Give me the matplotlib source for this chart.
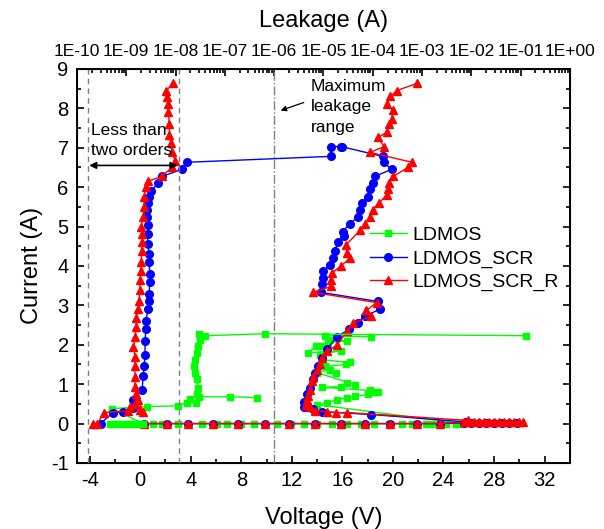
import numpy as np
import matplotlib
matplotlib.use("Agg")
import matplotlib.pyplot as plt
from matplotlib.ticker import MultipleLocator, FuncFormatter, LogLocator, NullFormatter

plt.rcParams['font.family'] = ['Liberation Sans', 'DejaVu Sans']
plt.rcParams['axes.unicode_minus'] = False

# ---- TLP I-V curves (bottom axis, Voltage) ----
ldmos_v = [1.0, 1.7, 3.0, 3.8, 4.9, 6.1, 6.9, 8.0, 9.0, 10.8, 11.9, 13.0, 14.0, 15.2, 16.4, 17.5,
           18.5, 19.7, 20.7, 21.5, 22.6, 23.1, 24.2, 25.0, 25.5,
           14.0, 14.8, 15.6, 16.4, 17.0, 18.0, 18.4, 18.8, 18.15,
           14.4, 15.9, 16.4, 17.0, 14.0, 15.0, 15.5, 14.6, 16.3, 16.6,
           14.4, 14.2, 15.9, 13.3, 13.9, 14.4, 14.9, 16.4, 15.0, 14.6, 18.3]
ldmos_i = [0] * 25 + [0.48, 0.53, 0.61, 0.66, 0.69, 0.74, 0.79, 0.81, 0.84,
                      0.92, 0.94, 1.02, 0.99, 1.29, 1.37, 1.29, 1.45, 1.50, 1.55,
                      1.62, 1.75, 1.85, 1.80, 1.96, 1.96, 2.05, 2.10, 2.13, 2.23, 2.20]

scr_v = [0.3, 2.1, 3.8, 5.8, 7.7, 9.9, 11.8, 13.8, 15.9, 17.8, 19.8, 21.9, 23.7,
         25.6, 26.2, 26.8, 27.4, 28.0, 28.6, 29.2, 29.8,
         25.8, 18.3, 14.4, 13.65, 13.0, 13.0, 13.2, 13.4, 13.65, 13.8, 14.05, 14.36, 14.76,
         15.55, 16.5, 17.2, 17.76, 18.94, 18.78,
         14.29, 14.36, 14.44, 14.44, 15.0, 15.23, 15.39, 15.63, 16.1, 16.02, 16.57, 17.2,
         17.36, 17.52, 18.0, 18.15, 18.39, 18.55, 19.89, 19.26, 19.18, 15.9]
scr_i = [0] * 13 + [0.02] * 8 + [
         0.04, 0.23, 0.30, 0.36, 0.41, 0.56, 0.74, 0.91, 1.12, 1.29, 1.45, 1.67, 1.88,
         2.20, 2.39, 2.56, 2.72, 2.90, 3.10,
         3.33, 3.53, 3.70, 3.86, 4.03, 4.20, 4.37, 4.60, 4.75, 4.87, 5.07, 5.23,
         5.43, 5.60, 5.76, 5.94, 6.10, 6.27, 6.45, 6.63, 6.78, 7.03]

scrr_v = [0.3, 2.1, 3.8, 5.8, 7.7, 9.9, 11.8, 13.8, 15.9, 17.8, 19.8, 21.9, 23.7,
          25.6, 26.0, 26.4, 26.8, 27.2, 27.6, 28.0, 28.4, 28.8, 29.2, 29.6, 30.0, 30.3,
          25.9, 16.4, 15.5, 14.8, 13.8, 13.4, 13.1, 13.2, 13.3, 13.2, 13.4, 13.6, 13.7,
          14.0, 14.2, 14.4, 14.8, 15.6, 16.4, 16.8, 18.3, 17.9, 18.7,
          13.7, 15.1, 15.1, 15.2, 15.9, 16.6, 16.4, 16.3, 17.4, 17.8, 18.2, 18.4, 18.9,
          19.5, 19.6, 19.7, 20.0, 21.2, 21.5, 18.2, 19.3, 18.8, 19.5, 19.7, 19.9, 20.0,
          19.5, 19.8, 20.3, 21.9]
scrr_i = [0] * 13 + [0.04, 0.03, 0.05, 0.03, 0.04, 0.05, 0.03, 0.04, 0.05, 0.03, 0.04, 0.05, 0.04] + [
          0.08, 0.28, 0.28, 0.30, 0.33, 0.43, 0.48, 0.53, 0.69, 0.60, 0.86, 1.07, 1.19,
          1.37, 1.52, 1.67, 1.83, 2.00, 2.36, 2.54, 2.72, 2.87, 3.07,
          3.33, 3.48, 3.65, 3.83, 4.00, 4.20, 4.34, 4.54, 4.90, 5.07, 5.25, 5.43, 5.60,
          5.80, 5.94, 6.10, 6.27, 6.50, 6.63, 6.88, 7.03, 7.26, 7.39, 7.60, 7.72, 7.95,
          8.10, 8.30, 8.45, 8.63]

# ---- Leakage curves (top axis, A) ----
ldmos_leak = [4.7e-10, 5.9e-10, 7.4e-10, 9.4e-10, 1.2e-9, 1.5e-9, 1.9e-9, 2.2e-9, 5.1e-10,
              2.6e-9, 1.1e-8, 1.7e-8, 1.95e-8, 2.6e-8, 2.7e-8, 2.8e-8, 2.7e-8, 2.45e-8,
              2.35e-8, 2.45e-8, 2.7e-8, 2.8e-8, 3.1e-8, 2.95e-8, 4.0e-8, 6.5e-7, 0.13]
ldmos_leak_i = [0, 0, 0, 0, 0, 0, 0, 0, 0.38,
                0.43, 0.45, 0.53, 0.63, 0.53, 0.74, 0.91, 1.12, 1.29,
                1.45, 1.62, 1.80, 1.96, 2.13, 2.28, 2.23, 2.28, 2.23]
ldmos_branch_leak = [3.0e-8, 1.26e-7, 4.5e-7]
ldmos_branch_i = [0.68, 0.68, 0.66]

scr_leak = [3.0e-10, 5.4e-10, 8.5e-10, 1.4e-9, 1.4e-9, 2.1e-9, 2.2e-9, 2.3e-9, 2.4e-9, 2.4e-9,
            2.5e-9, 2.5e-9, 2.75e-9, 2.9e-9, 2.9e-9, 3.0e-9, 3.0e-9, 2.9e-9, 2.9e-9, 2.75e-9,
            2.7e-9, 2.7e-9, 2.6e-9, 2.6e-9, 2.7e-9, 2.9e-9, 3.2e-9, 4.4e-9, 5.2e-9, 1.35e-8,
            1.7e-8, 1.4e-5, 1.4e-5, 2.4e-5]
scr_leak_i = [0, 0.28, 0.30, 0.40, 0.60, 0.86, 1.20, 1.45, 1.75, 2.10,
              2.40, 2.60, 2.90, 3.10, 3.30, 3.60, 3.80, 4.10, 4.30, 4.55,
              4.80, 5.05, 5.25, 5.43, 5.60, 5.76, 5.90, 6.10, 6.27, 6.45,
              6.63, 6.78, 7.03, 7.03]

scrr_leak = [2.1e-10, 2.6e-10, 3.5e-10, 1.07e-9, 1.2e-9, 1.5e-9, 1.9e-9, 2.2e-9, 1.74e-9, 1.6e-9,
             1.5e-9, 1.5e-9, 1.5e-9, 1.5e-9, 1.4e-9, 1.5e-9, 1.6e-9, 1.6e-9, 1.74e-9, 1.8e-9,
             1.9e-9, 1.9e-9, 2.0e-9, 2.0e-9, 2.05e-9, 2.1e-9, 2.1e-9, 2.0e-9, 2.2e-9, 2.3e-9,
             2.3e-9, 2.5e-9, 2.75e-9, 5.2e-9, 8.5e-9, 9.8e-9, 8.5e-9, 8.0e-9, 7.5e-9, 7.5e-9,
             7.1e-9, 7.1e-9, 6.8e-9, 6.5e-9, 8.9e-9]
scrr_leak_i = [0, 0, 0.28, 0.32, 0.43, 0.50, 0.35, 0.30, 0.60, 0.75,
               0.94, 1.19, 1.45, 1.70, 1.95, 2.20, 2.45, 2.69, 2.90, 3.10,
               3.40, 3.65, 3.86, 4.10, 4.37, 4.60, 4.80, 5.00, 5.25, 5.50,
               5.76, 6.00, 6.15, 6.27, 6.50, 6.65, 6.90, 7.13, 7.33, 7.60,
               7.90, 8.10, 8.28, 8.45, 8.63]

labels = ['LDMOS', 'LDMOS_SCR', 'LDMOS_SCR_R']
colors = ['#00ff00', '#0000ff', '#ff0000']
markers = ['s', 'o', '^']

fig = plt.figure(figsize=(6.04, 5.29), dpi=100)
ax = fig.add_axes([0.1275, 0.1248, 0.816, 0.745])

ms = [4.5, 5.5, 6]
h1, = ax.plot(ldmos_v, ldmos_i, color=colors[0], marker=markers[0], ms=ms[0], lw=1, label=labels[0])
h2, = ax.plot(scr_v, scr_i, color=colors[1], marker=markers[1], ms=ms[1], lw=1, label=labels[1])
h3, = ax.plot(scrr_v, scrr_i, color=colors[2], marker=markers[2], ms=ms[2], lw=1, label=labels[2])

ax.set_xlim(-5, 34)
ax.set_ylim(-1, 9)
ax.xaxis.set_major_locator(MultipleLocator(4))
ax.xaxis.set_minor_locator(MultipleLocator(2))
ax.yaxis.set_major_locator(MultipleLocator(1))
ax.yaxis.set_minor_locator(MultipleLocator(0.5))
ax.tick_params(which='both', direction='in', right=True, labelsize=14.5, width=1.2)
ax.tick_params(which='major', length=5, pad=6)
ax.tick_params(which='minor', length=3)
ax.set_xlabel('Voltage (V)', fontsize=17, labelpad=12)
ax.set_ylabel('Current (A)', fontsize=17, labelpad=6)
for s in ax.spines.values():
    s.set_linewidth(1.4)

ax2 = ax.twiny()
ax2.set_xscale('log')
ax2.set_xlim(1e-10, 1e0)
ax2.plot(ldmos_leak, ldmos_leak_i, color=colors[0], marker=markers[0], ms=ms[0], lw=1)
ax2.plot(ldmos_branch_leak, ldmos_branch_i, color=colors[0], marker=markers[0], ms=ms[0], lw=1)
ax2.plot(scr_leak, scr_leak_i, color=colors[1], marker=markers[1], ms=ms[1], lw=1)
ax2.plot(scrr_leak, scrr_leak_i, color=colors[2], marker=markers[2], ms=ms[2], lw=1)

# reference lines
ax2.axvline(1.66e-10, color='gray', ls=(0, (4, 3)), lw=1)
ax2.axvline(1.2e-8, color='gray', ls=(0, (4, 3)), lw=1)
ax2.axvline(1e-6, color='gray', ls='-.', lw=1)

ax2.xaxis.set_major_locator(LogLocator(base=10, numticks=20))
ax2.xaxis.set_minor_locator(LogLocator(base=10, subs=np.arange(2, 10), numticks=20))
ax2.xaxis.set_minor_formatter(NullFormatter())
ax2.xaxis.set_major_formatter(FuncFormatter(lambda x, p: '1E%+03d' % int(round(np.log10(x)))))
ax2.tick_params(which='both', direction='in', labelsize=12.5, width=1.2)
ax2.tick_params(which='major', length=5, pad=7)
ax2.tick_params(which='minor', length=3)
ax2.set_xlabel('Leakage (A)', fontsize=17, labelpad=12)

# annotations
ax2.annotate('', xy=(1.55e-10, 6.55), xytext=(1.25e-8, 6.55),
             arrowprops=dict(arrowstyle='<|-|>', color='black', lw=1.2, mutation_scale=10))
ax2.text(1.9e-10, 7.62, 'Less than\ntwo orders', fontsize=12.5, va='top', ha='left', linespacing=1.4)
ax2.annotate('', xy=(1.2e-6, 7.92), xytext=(4.5e-6, 8.17),
             arrowprops=dict(arrowstyle='-|>', color='black', lw=0.9, mutation_scale=8))
ax2.text(5.5e-6, 8.75, 'Maximum\nleakage\nrange', fontsize=12.5, va='top', ha='left', linespacing=1.45)

ax2.legend([h1, h2, h3], labels, loc='upper left', bbox_to_anchor=(0.578, 0.62),
           frameon=False, fontsize=14, handlelength=1.9, handletextpad=0.3,
           labelspacing=0.3, borderaxespad=0)

fig.savefig('out.png', dpi=100)
